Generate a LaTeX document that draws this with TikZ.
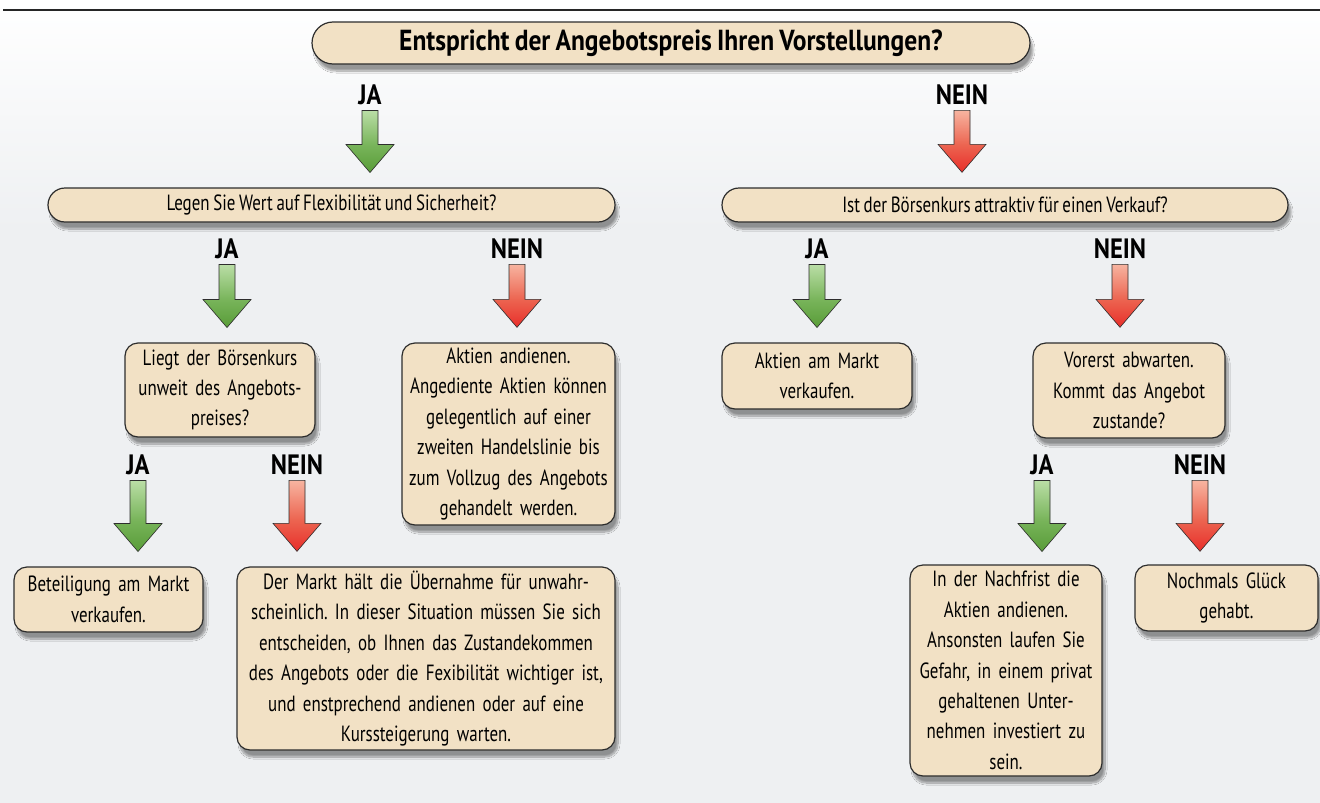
\documentclass[tikz,border=0pt]{standalone}
\usepackage{fontspec}
\setmainfont{PT Sans}[FakeStretch=0.77, WordSpace=0.8, BoldFeatures={FakeStretch=0.88}]
\usetikzlibrary{shadows.blur}
\frenchspacing

\definecolor{kastenfill}{RGB}{242,225,197}
\definecolor{randgrau}{RGB}{45,45,45}
\definecolor{hintergrund}{RGB}{238,240,242}
\definecolor{jadunkel}{RGB}{88,156,56}
\definecolor{jamittel}{RGB}{120,180,90}
\definecolor{jahell}{RGB}{186,222,166}
\definecolor{neindunkel}{RGB}{232,46,42}
\definecolor{neinmittel}{RGB}{236,100,80}
\definecolor{neinhell}{RGB}{247,180,160}

\pgfdeclareverticalshading{jashade}{100bp}{color(0bp)=(jadunkel); color(25bp)=(jadunkel); color(47bp)=(jamittel); color(75bp)=(jahell); color(100bp)=(jahell)}
\pgfdeclareverticalshading{neinshade}{100bp}{color(0bp)=(neindunkel); color(25bp)=(neindunkel); color(47bp)=(neinmittel); color(75bp)=(neinhell); color(100bp)=(neinhell)}

\tikzset{
  schatten/.style={blur shadow={shadow xshift=3pt, shadow yshift=-7pt, shadow blur steps=10, shadow opacity=40}},
  frage/.style={draw=randgrau, line width=1.2pt, fill=kastenfill, schatten, align=center, inner sep=0pt},
  kasten/.style={draw=randgrau, line width=1.2pt, fill=kastenfill, schatten, rounded corners=13pt,
    align=center, inner sep=3pt, font=\fontsize{22}{30.4}\selectfont},
  antwort/.style={font=\bfseries\fontsize{28}{30}\selectfont, inner sep=0pt, anchor=base},
  japfeil/.style={shading=jashade, draw=randgrau, line width=0.6pt},
  neinpfeil/.style={shading=neinshade, draw=randgrau, line width=0.6pt}
}

% Blockpfeil unter einer Antwort: #1 Stil, #2 Knoten, #3 Laenge
\newcommand{\pfeil}[3]{%
  \draw[#1] ([yshift=-6pt]#2.south) ++(-8,0) -- ++(16,0) -- ++(0,#3-28) -- ++(16,0)
    -- ++(-24,28) -- ++(-24,-28) -- ++(16,0) -- cycle;}

\begin{document}
\begin{tikzpicture}[x=1pt,y=-1pt]
\useasboundingbox (0,0) rectangle (1320,803);
\fill[hintergrund] (0,0) rectangle (1320,803);
\shade[top color=white, bottom color=hintergrund] (0,0) rectangle (1320,230);
\draw[line width=2.5pt, black!85] (3,10) -- (1320,10);

% Fragen
\node[frage, rounded corners=21pt, minimum width=718pt, minimum height=42pt,
  font=\bfseries\fontsize{29}{30}\selectfont] (frage1) at (671,43)
  {Entspricht der Angebotspreis Ihren Vorstellungen?};
\node[frage, rounded corners=17pt, minimum width=567pt, minimum height=34pt,
  font=\fontsize{22}{24}\selectfont] (frage2) at (331.5,205)
  {Legen Sie Wert auf Flexibilität und Sicherheit?};
\node[frage, rounded corners=17pt, minimum width=566pt, minimum height=34pt,
  font=\fontsize{22}{24}\selectfont] (frage3) at (1005,205)
  {Ist der Börsenkurs attraktiv für einen Verkauf?};

% Kaesten
\node[kasten, text width=184pt, minimum height=94pt] (liegt) at (220,390)
  {Liegt der Börsenkurs\\unweit des Angebots-\\preises?};
\node[kasten, text width=207pt, minimum height=182pt] (andienen) at (508.5,434)
  {Aktien andienen.\\Angediente Aktien können\\gelegentlich auf einer\\zweiten Handelslinie bis\\zum Vollzug des Angebots\\gehandelt werden.};
\node[kasten, text width=184pt, minimum height=66pt] (markt) at (817,376)
  {Aktien am Markt\\verkaufen.};
\node[kasten, text width=186pt, minimum height=95pt] (vorerst) at (1129,390.5)
  {Vorerst abwarten.\\Kommt das Angebot\\zustande?};
\node[kasten, text width=183pt, minimum height=65pt] (beteiligung) at (108.5,599.5)
  {Beteiligung am Markt\\verkaufen.};
\node[kasten, text width=372pt, minimum height=183pt] (uebernahme) at (426,658.5)
  {Der Markt hält die Übernahme für unwahr-\\scheinlich. In dieser Situation müssen Sie sich\\entscheiden, ob Ihnen das Zustandekommen\\des Angebots oder die Fexibilität wichtiger ist,\\und enstprechend andienen oder auf eine\\Kurssteigerung warten.};
\node[kasten, text width=186pt, minimum height=211pt] (nachfrist) at (1006,670.5)
  {In der Nachfrist die\\Aktien andienen.\\Ansonsten laufen Sie\\Gefahr, in einem privat\\gehaltenen Unter-\\nehmen investiert zu\\sein.};
\node[kasten, text width=177pt, minimum height=66pt] (glueck) at (1226.5,598)
  {Nochmals Glück\\gehabt.};

% Antworten
\node[antwort] (ja1) at (370,104) {JA};
\node[antwort] (nein1) at (962,104) {NEIN};
\node[antwort] (ja2) at (227,258) {JA};
\node[antwort] (nein2) at (517,258) {NEIN};
\node[antwort] (ja3) at (817,258) {JA};
\node[antwort] (nein3) at (1120,258) {NEIN};
\node[antwort] (ja4) at (138,474) {JA};
\node[antwort] (nein4) at (297,474) {NEIN};
\node[antwort] (ja5) at (1042,474) {JA};
\node[antwort] (nein5) at (1200,474) {NEIN};

% Pfeile
\pfeil{japfeil}{ja1}{62}
\pfeil{neinpfeil}{nein1}{62}
\pfeil{japfeil}{ja2}{63}
\pfeil{neinpfeil}{nein2}{63}
\pfeil{japfeil}{ja3}{63}
\pfeil{neinpfeil}{nein3}{63}
\pfeil{japfeil}{ja4}{71}
\pfeil{neinpfeil}{nein4}{71}
\pfeil{japfeil}{ja5}{71}
\pfeil{neinpfeil}{nein5}{71}
\end{tikzpicture}
\end{document}
